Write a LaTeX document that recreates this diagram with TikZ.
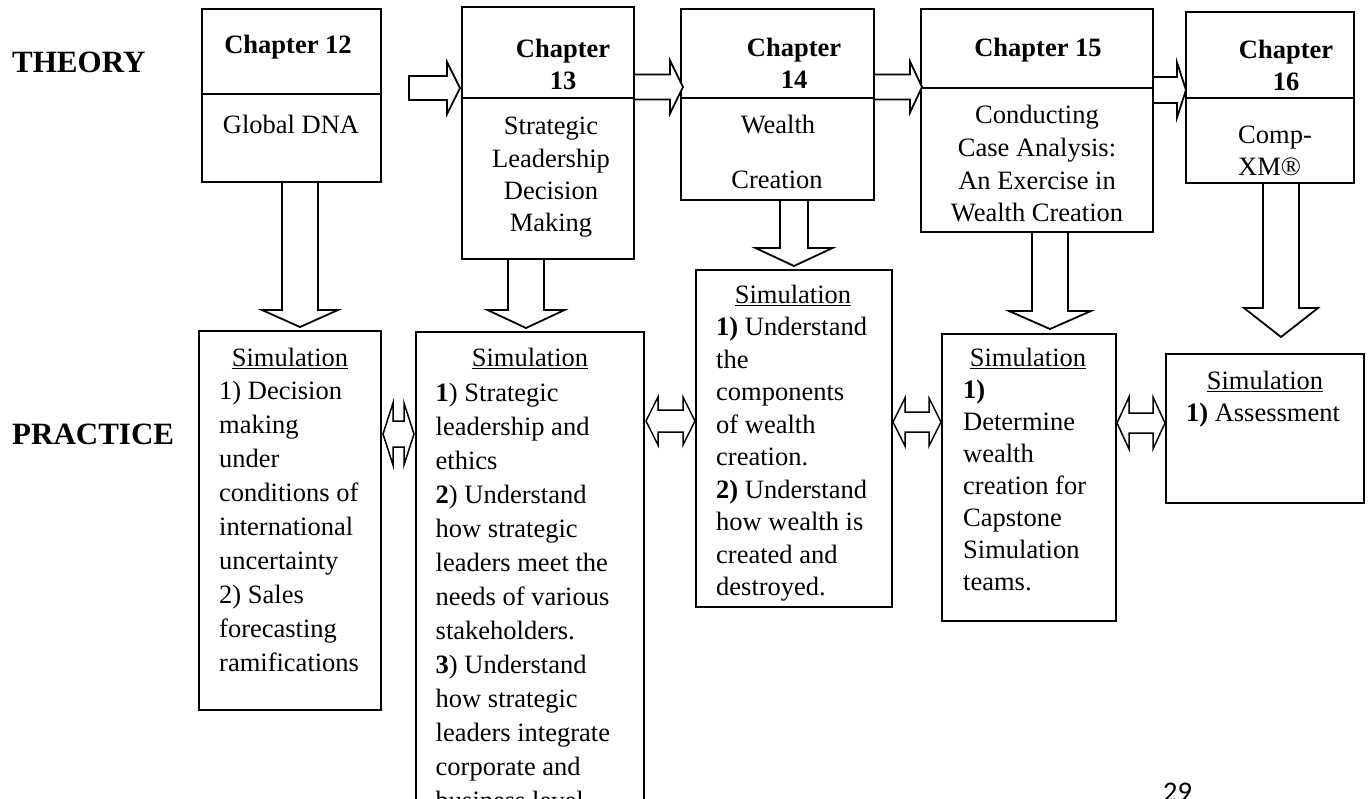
\documentclass[tikz,border=0pt]{standalone}
\usepackage{fontspec}
\setmainfont{Liberation Serif}
\newfontfamily\pagenumfont{Carlito}

% hollow block arrow pointing right: start x, head base x, tip x, centre y, shaft half-height, head half-height
\newcommand\ArrowRight[6]{%
  \draw[blockarrow] (#1,#4-#5) -- (#2,#4-#5) -- (#2,#4-#6) -- (#3,#4) -- (#2,#4+#6) -- (#2,#4+#5) -- (#1,#4+#5) -- cycle;}
% hollow block arrow pointing down: centre x, start y, head base y, tip y, shaft half-width, head half-width
\newcommand\ArrowDown[6]{%
  \draw[blockarrow] (#1-#5,#2) -- (#1-#5,#3) -- (#1-#6,#3) -- (#1,#4) -- (#1+#6,#3) -- (#1+#5,#3) -- (#1+#5,#2) -- cycle;}
% hollow two-headed arrow: left x, right x, centre y, head length, shaft half-height, head half-height
\newcommand\ArrowBoth[6]{%
  \draw[twoway] (#1,#3) -- (#1+#4,#3-#6) -- (#1+#4,#3-#5) -- (#2-#4,#3-#5) -- (#2-#4,#3-#6) -- (#2,#3)
    -- (#2-#4,#3+#6) -- (#2-#4,#3+#5) -- (#1+#4,#3+#5) -- (#1+#4,#3+#6) -- cycle;}

\begin{document}
\begin{tikzpicture}[x=1pt,y=-1pt,
  boxline/.style={line width=2.2pt},
  box/.style={draw, line width=2.2pt, inner sep=0pt, outer sep=0pt, anchor=north west},
  blockarrow/.style={draw, line width=1.8pt, fill=white, line join=miter},
  twoway/.style={draw, line width=1.5pt, fill=white, line join=miter},
  heading/.style={inner sep=0pt, font=\bfseries\fontsize{26.5}{32}\selectfont},
  body/.style={inner sep=0pt, font=\fontsize{26.5}{33}\selectfont},
  side/.style={inner sep=0pt, anchor=west, font=\bfseries\fontsize{31}{36}\selectfont},
]
\useasboundingbox (0,0) rectangle (1370,798);
\clip (0,0) rectangle (1370,798);
\fill[white] (0,0) rectangle (1370,798);

% row labels
\node[side] (theory) at (12,62) {THEORY};
\node[side] (practice) at (12,434) {PRACTICE};

% chapter boxes
\node[box, minimum width=179, minimum height=173] (ch12) at (202,9) {};
\node[box, minimum width=172, minimum height=252] (ch13) at (462,7) {};
\node[box, minimum width=193, minimum height=191] (ch14) at (681,9) {};
\node[box, minimum width=232, minimum height=223] (ch15) at (921,9) {};
\node[box, minimum width=168, minimum height=171] (ch16) at (1186,12) {};

% dividers between chapter number and title
\coordinate (d12) at (0,94);
\coordinate (d13) at (0,98);
\coordinate (d14) at (0,98);
\coordinate (d15) at (0,88);
\coordinate (d16) at (0,98);
\draw[boxline] (ch12.west |- d12) -- (ch12.east |- d12);
\draw[boxline] (ch13.west |- d13) -- (ch13.east |- d13);
\draw[boxline] (ch14.west |- d14) -- (ch14.east |- d14);
\draw[boxline] (ch15.west |- d15) -- (ch15.east |- d15);
\draw[boxline] (ch16.west |- d16) -- (ch16.east |- d16);

% chapter headings
\node[heading, anchor=base] (h12) at (288,53.5) {Chapter 12};
\node[heading, anchor=north, align=center] (h13) at (563,34.8) {\strut Chapter\\13};
\node[heading, anchor=north, align=center] (h14) at (794,34.1) {\strut Chapter\\14};
\node[heading, anchor=base] (h15) at (1038,56.5) {Chapter 15};
\node[heading, anchor=north, align=center] (h16) at (1286,36.1) {\strut Chapter\\16};

% chapter titles
\node[body, anchor=base] (t12) at (291,133.5) {Global DNA};
\node[body, anchor=north, align=center, font=\fontsize{26.5}{32.3}\selectfont] (t13) at (551,111.9)
  {\strut Strategic\\Leadership\\Decision\\Making};
\node[body, anchor=base] (t14a) at (778,133.5) {Wealth};
\node[body, anchor=base] (t14b) at (777,188.5) {Creation};
\node[body, anchor=north, align=center, font=\fontsize{26.5}{32.7}\selectfont] (t15) at (1037,100.6)
  {\strut Conducting\\Case Analysis:\\An Exercise in\\Wealth Creation};
\node[body, anchor=north west, align=left, font=\fontsize{26.5}{32}\selectfont] (t16) at (1238,121.1)
  {\strut Comp-\\XM\textregistered};

% simulation boxes
\node[box, minimum width=182, minimum height=379] (s12) at (199,331) {};
\node[box, minimum width=228, minimum height=520] (s13) at (416,332) {};
\node[box, minimum width=196, minimum height=337] (s14) at (696,270) {};
\node[box, minimum width=174, minimum height=287] (s15) at (942,334) {};
\node[box, minimum width=198, minimum height=149] (s16) at (1166,354) {};

% simulation headings
\node[body, anchor=base] (sh12) at (290,366.5) {\underline{Simulation}};
\node[body, anchor=base] (sh13) at (530,366.5) {\underline{Simulation}};
\node[body, anchor=base] (sh14) at (793,303.5) {\underline{Simulation}};
\node[body, anchor=base] (sh15) at (1028,366.5) {\underline{Simulation}};
\node[body, anchor=base] (sh16) at (1265,389.5) {\underline{Simulation}};

% simulation objectives
\node[body, anchor=north west, align=left, font=\fontsize{26.5}{34}\selectfont] (l12) at (219,375.7)
  {\strut 1) Decision\\making\\under\\conditions of\\international\\uncertainty\\2) Sales\\forecasting\\ramifications};
\node[body, anchor=north west, align=left, font=\fontsize{26.5}{34}\selectfont] (l13) at (435.5,377.7)
  {\strut\textbf{1}) Strategic\\leadership and\\ethics\\\textbf{2}) Understand\\how strategic\\leaders meet the\\needs of various\\stakeholders.\\\textbf{3}) Understand\\how strategic\\leaders integrate\\corporate and\\business level};
\node[body, anchor=north west, align=left, font=\fontsize{26.5}{32.5}\selectfont] (l14) at (716,312.75)
  {\strut\textbf{1)} Understand\\the\\components\\of wealth\\creation.\\\textbf{2)} Understand\\how wealth is\\created and\\destroyed.};
\node[body, anchor=north west, align=left, font=\fontsize{26.5}{32}\selectfont] (l15) at (963,375.75)
  {\strut\textbf{1)}\\Determine\\wealth\\creation for\\Capstone\\Simulation\\teams.};
\node[body, anchor=base] (l16) at (1263,421.5) {\textbf{1)} Assessment};

% flow between chapters
\ArrowRight{409}{447}{460}{88}{12}{26}
\ArrowRight{634}{670}{683}{87}{12.5}{26.5}
\ArrowRight{874}{910}{922}{87}{12.5}{25.5}
\ArrowRight{1153}{1177}{1186}{90}{13}{27.5}

% theory feeding practice
\ArrowDown{300}{182}{310}{327}{18}{38}
\ArrowDown{526}{259}{310}{328}{18}{38.5}
\ArrowDown{794}{200}{248}{266}{14}{38.5}
\ArrowDown{1050}{232}{311}{329}{18}{41}
\ArrowDown{1281}{183}{308}{337}{18}{37}

% links between practice boxes
\ArrowBoth{383}{414}{434}{10}{13}{31}
\ArrowBoth{646}{695}{421}{12}{11}{24}
\ArrowBoth{893}{941}{422}{12}{10}{24}
\ArrowBoth{1117}{1165}{423}{12}{10}{26}

% page number
\node[inner sep=0pt, anchor=base west, font=\pagenumfont\fontsize{28.5}{30}\selectfont] (page) at (1163,801) {29};
\end{tikzpicture}
\end{document}
